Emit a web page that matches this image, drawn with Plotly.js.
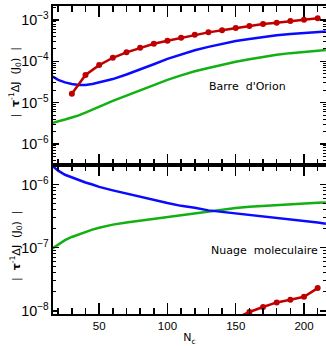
<!DOCTYPE html>
<html>
<head>
<meta charset="utf-8">
<script src="https://cdn.plot.ly/plotly-3.0.1.min.js"></script>
<style>html,body{margin:0;padding:0;background:#fff;}#chart{width:326px;height:346px;}</style>
</head>
<body>
<div id="chart"></div>
<script>
// Shared N_c grid for the smooth curves
const ncCurve = [16, 20, 25, 30, 35, 40, 45, 50, 60, 70, 80, 90, 100, 110, 120, 130, 140, 150, 160, 170, 180, 190, 200, 210, 216];

// Upper panel: Barre d'Orion
const orionBlue = [4.27e-5, 3.55e-5, 3.09e-5, 2.82e-5, 2.69e-5, 2.69e-5, 2.82e-5, 3.09e-5, 3.72e-5, 4.79e-5, 6.31e-5, 8.51e-5, 1.15e-4, 1.48e-4, 1.86e-4, 2.24e-4, 2.66e-4, 3.09e-4, 3.47e-4, 3.89e-4, 4.27e-4, 4.62e-4, 4.90e-4, 5.13e-4, 5.25e-4];
const orionGreen = [3.24e-6, 3.47e-6, 3.89e-6, 4.37e-6, 4.90e-6, 5.75e-6, 6.76e-6, 8.13e-6, 1.10e-5, 1.48e-5, 2.00e-5, 2.69e-5, 3.55e-5, 4.57e-5, 5.75e-5, 6.92e-5, 8.32e-5, 9.77e-5, 1.12e-4, 1.29e-4, 1.45e-4, 1.58e-4, 1.70e-4, 1.82e-4, 1.88e-4];
const orionRedNc = [30, 40, 50, 60, 70, 80, 90, 100, 110, 120, 130, 140, 150, 160, 170, 180, 190, 200, 210];
const orionRed = [1.64e-5, 4.67e-5, 8.1e-5, 1.22e-4, 1.65e-4, 2.14e-4, 2.67e-4, 3.15e-4, 3.73e-4, 4.41e-4, 5.03e-4, 5.64e-4, 6.4e-4, 7.16e-4, 8.0e-4, 8.6e-4, 9.46e-4, 1.02e-3, 1.10e-3];

// Lower panel: Nuage moleculaire
const cloudBlue = [1.95e-6, 1.66e-6, 1.43e-6, 1.29e-6, 1.17e-6, 1.08e-6, 1.00e-6, 9.2e-7, 8.1e-7, 7.2e-7, 6.4e-7, 5.6e-7, 5.1e-7, 4.6e-7, 4.3e-7, 3.9e-7, 3.7e-7, 3.5e-7, 3.3e-7, 3.1e-7, 3.0e-7, 2.8e-7, 2.7e-7, 2.5e-7, 2.4e-7];
const cloudGreen = [9.8e-8, 1.12e-7, 1.32e-7, 1.48e-7, 1.62e-7, 1.78e-7, 1.93e-7, 2.07e-7, 2.32e-7, 2.51e-7, 2.69e-7, 2.85e-7, 3.02e-7, 3.24e-7, 3.51e-7, 3.76e-7, 4.03e-7, 4.27e-7, 4.47e-7, 4.62e-7, 4.73e-7, 4.84e-7, 5.01e-7, 5.13e-7, 5.19e-7];
const cloudRedNc = [150, 160, 170, 180, 190, 200, 210];
const cloudRed = [7.6e-9, 9.6e-9, 1.15e-8, 1.36e-8, 1.50e-8, 1.67e-8, 2.29e-8];

const xTickVals = [50, 100, 150, 200];
const yTitle = '|&nbsp; <b>τ</b><sup>-1</sup>ΔJ&nbsp; (J<sub>0</sub>)&nbsp; |';
const xTitle = 'N<sub>c</sub>';
const labelTop = "Barre&nbsp; d'Orion";
const labelBottom = 'Nuage&nbsp; moleculaire';

const RED = '#c00000', BLUE = '#0a0aff', GREEN = '#12b012';
const FONT = 'Liberation Sans, Arial, Helvetica, sans-serif';
const FONT2 = 'DejaVu Sans, Liberation Sans, sans-serif';

function line(x, y, color, xa, ya) {
  return {x: x, y: y, type: 'scatter', mode: 'lines', xaxis: xa, yaxis: ya,
          line: {color: color, width: 2.5}, hoverinfo: 'skip', showlegend: false};
}
function dots(x, y, xa, ya) {
  return {x: x, y: y, type: 'scatter', mode: 'lines+markers', xaxis: xa, yaxis: ya,
          line: {color: RED, width: 2.5}, marker: {color: RED, size: 6},
          hoverinfo: 'skip', showlegend: false};
}

const traces = [
  line(ncCurve, orionGreen, GREEN, 'x2', 'y2'),
  line(ncCurve, orionBlue, BLUE, 'x2', 'y2'),
  dots(orionRedNc, orionRed, 'x2', 'y2'),
  line(ncCurve, cloudGreen, GREEN, 'x', 'y'),
  line(ncCurve, cloudBlue, BLUE, 'x', 'y'),
  dots(cloudRedNc, cloudRed, 'x', 'y')
];

const xRange = [16.2, 216.1];
const split = 0.4838;

function xAxis(anchor, labels) {
  return {
    anchor: anchor, range: xRange, tickmode: 'array', tickvals: xTickVals,
    ticks: 'inside', ticklen: 11, tickwidth: 1.5, tickcolor: '#000',
    showticklabels: labels, showgrid: false, zeroline: false,
    showline: true, linecolor: '#000', linewidth: 2, mirror: 'ticks',
    minor: {ticks: 'inside', ticklen: 6, tickwidth: 1.5, tickcolor: '#000', dtick: 10, tick0: 0, showgrid: false},
    tickfont: {family: FONT, size: 11.5, color: '#000'}
  };
}
function yAxis(domain, range) {
  return {
    type: 'log', domain: domain, range: range, dtick: 1,
    exponentformat: 'power', showexponent: 'all',
    ticks: 'inside', ticklen: 6, tickwidth: 1.5, tickcolor: '#000',
    showgrid: false, zeroline: false,
    showline: true, linecolor: '#000', linewidth: 2, mirror: 'ticks',
    minor: {ticks: 'inside', ticklen: 3, tickwidth: 1, tickcolor: '#000', dtick: 'D1', showgrid: false},
    tickfont: {family: FONT, size: 11.5, color: '#000'}
  };
}

const xa = xAxis('y', true);
xa.title = {text: xTitle, font: {family: FONT2, size: 11, color: '#000'}, standoff: 3};
const xa2 = xAxis('y2', false);
xa2.matches = 'x';

const layout = {
  width: 326, height: 346,
  margin: {l: 52.5, r: 0, t: 6, b: 32, pad: 0},
  paper_bgcolor: '#fff', plot_bgcolor: '#fff',
  font: {family: FONT, size: 11, color: '#000'},
  showlegend: false,
  xaxis: xa,
  xaxis2: xa2,
  yaxis: yAxis([0, split], [-8.05, -5.69]),
  yaxis2: yAxis([split, 1], [-6.51, -2.66]),
  annotations: [
    {text: yTitle, xref: 'paper', yref: 'paper', x: -0.1372, y: 0.753, textangle: -90,
     showarrow: false, xanchor: 'center', yanchor: 'middle', font: {family: FONT2, size: 11, color: '#000'}},
    {text: yTitle, xref: 'paper', yref: 'paper', x: -0.1372, y: 0.2224, textangle: -90,
     showarrow: false, xanchor: 'center', yanchor: 'middle', font: {family: FONT2, size: 11, color: '#000'}},
    {text: labelTop, xref: 'x2', yref: 'y2', x: 158.8, y: -4.598, showarrow: false,
     xanchor: 'center', yanchor: 'middle', font: {family: FONT2, size: 11, color: '#000'}},
    {text: labelBottom, xref: 'x', yref: 'y', x: 170.8, y: -7.052, showarrow: false,
     xanchor: 'center', yanchor: 'middle', font: {family: FONT2, size: 11, color: '#000'}}
  ]
};

Plotly.newPlot('chart', traces, layout, {staticPlot: true, displayModeBar: false});
</script>
</body>
</html>
